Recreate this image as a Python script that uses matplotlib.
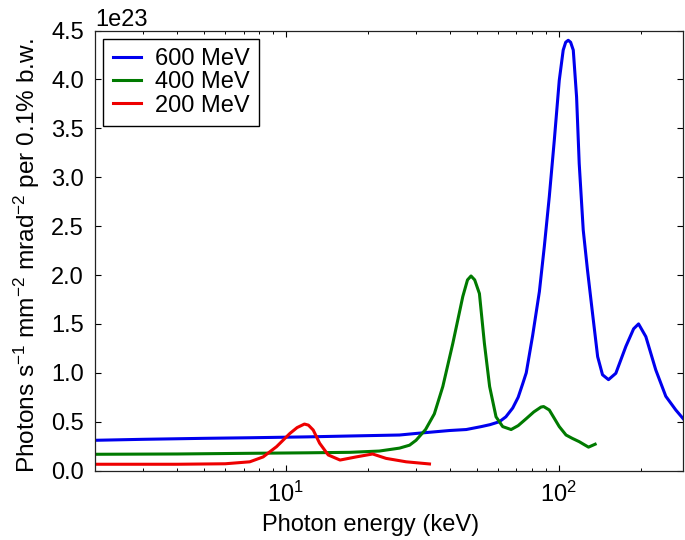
import numpy as np
import matplotlib
matplotlib.use('Agg')
import matplotlib.pyplot as plt

# spectra (x in keV, y in units of 1e23 photons ... per 0.1% b.w.)
E_600 = [2, 3, 5, 7.4, 12, 17.2, 26.1, 30, 39.8, 45.8, 52, 56, 60.6, 64, 67.8, 71, 73.8,
         76, 80.2, 84.9, 88.5, 92.3, 96.3, 100.4, 103.8, 106, 108.3, 110.5, 113, 116.2,
         118.8, 122.9, 127.4, 132.9, 138.8, 144.6, 152.1, 161.8, 176.1, 188, 196, 208.4,
         226.6, 246.6, 268.3, 287.7]
I_600 = [0.31, 0.32, 0.33, 0.336, 0.345, 0.354, 0.364, 0.38, 0.41, 0.42, 0.45, 0.47, 0.50,
         0.55, 0.64, 0.75, 0.89, 1.0, 1.38, 1.83, 2.29, 2.80, 3.38, 3.99, 4.30, 4.38, 4.40,
         4.38, 4.30, 3.82, 3.14, 2.46, 2.05, 1.61, 1.165, 0.98, 0.93, 0.995, 1.27, 1.45, 1.50,
         1.37, 1.03, 0.76, 0.62, 0.52]

E_400 = [2, 4, 7.4, 12, 17.2, 22, 26.1, 28.4, 30, 32.5, 35, 37.6, 40.9, 44.5, 46.3, 47.7,
         49.2, 51.2, 53.4, 55.8, 58.9, 62.3, 66.9, 71, 75.9, 81, 86.1, 88, 92.3, 100.4, 106.3,
         112, 118.8, 124, 128.5, 135.9]
I_400 = [0.167, 0.17, 0.177, 0.182, 0.187, 0.2, 0.23, 0.26, 0.31, 0.42, 0.58, 0.86, 1.30,
         1.78, 1.95, 1.99, 1.95, 1.81, 1.30, 0.86, 0.55, 0.45, 0.42, 0.46, 0.53, 0.60, 0.65,
         0.655, 0.62, 0.45, 0.364, 0.33, 0.296, 0.265, 0.24, 0.27]

E_200 = [2, 4, 6, 7.38, 8.26, 9.25, 10.35, 11.0, 11.7, 12.1, 12.6, 13.3, 14.3, 15.8, 18.1,
         20.8, 23.3, 27.6, 33.6]
I_200 = [0.065, 0.065, 0.07, 0.09, 0.14, 0.245, 0.38, 0.44, 0.476, 0.465, 0.415, 0.28, 0.16,
         0.108, 0.14, 0.17, 0.125, 0.09, 0.068]

SCALE = 1e23

plt.rcParams['font.family'] = ['Liberation Sans', 'DejaVu Sans']
plt.rcParams['mathtext.default'] = 'regular'
plt.rcParams['font.size'] = 17

fig = plt.figure(figsize=(6.85, 5.4), dpi=100)
ax = fig.add_axes([0.1387, 0.1285, 0.8583, 0.815])

ax.plot(E_600, np.array(I_600) * SCALE, color='#0000ee', lw=2.2, label='600 MeV')
ax.plot(E_400, np.array(I_400) * SCALE, color='#007a00', lw=2.2, label='400 MeV')
ax.plot(E_200, np.array(I_200) * SCALE, color='#ee0000', lw=2.2, label='200 MeV')

ax.set_xscale('log')
ax.set_xlim(2, 285)
ax.set_ylim(0, 4.5e23)
ax.set_yticks(np.arange(0, 4.51, 0.5) * SCALE)

ax.tick_params(which='both', direction='in', top=True, right=True, pad=8)
ax.tick_params(which='major', length=4, width=0.8)
ax.tick_params(which='minor', length=2.5, width=0.7)
for s in ax.spines.values():
    s.set_linewidth(0.9)
    s.set_color('#222222')

ax.set_xlabel('Photon energy (keV)')
ax.set_ylabel('Photons s$^{-1}$ mm$^{-2}$ mrad$^{-2}$ per 0.1% b.w.', fontsize=17.6)
ax.xaxis.set_label_coords(0.468, -0.098)
ax.yaxis.set_label_coords(-0.09, 0.489)

leg = ax.legend(loc='upper left', fancybox=False, edgecolor='black', framealpha=1,
                borderaxespad=0.35, borderpad=0.4, labelspacing=0.05,
                handlelength=1.2, handletextpad=0.6)
leg.get_frame().set_linewidth(1.0)

fig.savefig('out.png', dpi=100)
